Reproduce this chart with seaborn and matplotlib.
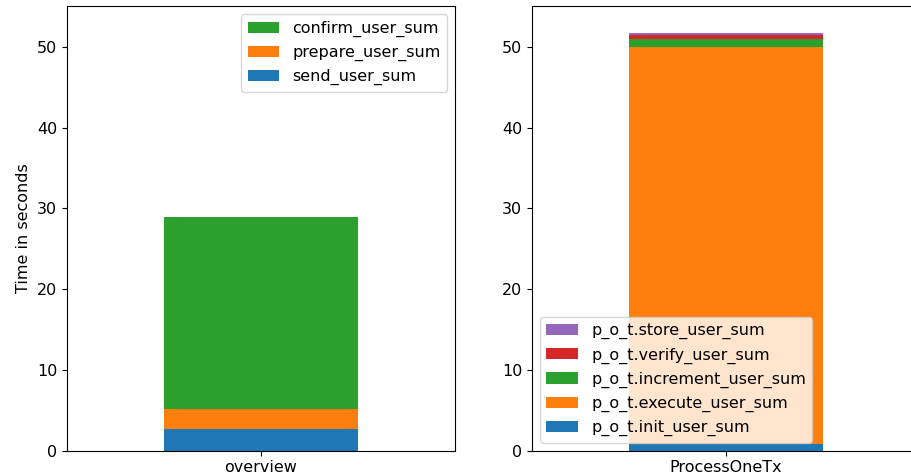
import seaborn as sns
import numpy as np
import matplotlib
matplotlib.use("Agg")
import matplotlib.pyplot as plt

# overview stack (bottom to top)
overview_cat = ["overview"]
overview_names = ["send_user_sum", "prepare_user_sum", "confirm_user_sum"]
overview_vals = [2.63, 2.51, 23.76]

# ProcessOneTx stack (bottom to top)
pot_cat = ["ProcessOneTx"]
pot_names = ["p_o_t.init_user_sum", "p_o_t.execute_user_sum", "p_o_t.increment_user_sum",
             "p_o_t.verify_user_sum", "p_o_t.store_user_sum"]
pot_vals = [0.83, 49.13, 0.99, 0.57, 0.18]

colors = sns.color_palette("tab10")
plt.rcParams["font.size"] = 11.5

fig = plt.figure(figsize=(9.11, 4.73), dpi=100)
ax1 = fig.add_axes([67 / 911, 22.5 / 473, 388 / 911, 444 / 473])
ax2 = fig.add_axes([532 / 911, 22.5 / 473, 388 / 911, 444 / 473])


def stacked(ax, cat, names, vals):
    cum = np.cumsum(vals)
    # draw tallest first so the shorter layers sit on top
    for i in range(len(vals) - 1, -1, -1):
        sns.barplot(x=cat, y=[cum[i]], color=colors[i], saturation=1, width=0.5,
                    linewidth=0, label=names[i], ax=ax)
    ax.set_ylim(0, 55)
    ax.set_xlabel("")


stacked(ax1, overview_cat, overview_names, overview_vals)
stacked(ax2, pot_cat, pot_names, pot_vals)

ax1.set_ylabel("Time in seconds")
ax2.set_ylabel("")
ax1.legend(loc="upper right")
ax2.legend(loc="lower left")

fig.savefig("out.png", dpi=100)
